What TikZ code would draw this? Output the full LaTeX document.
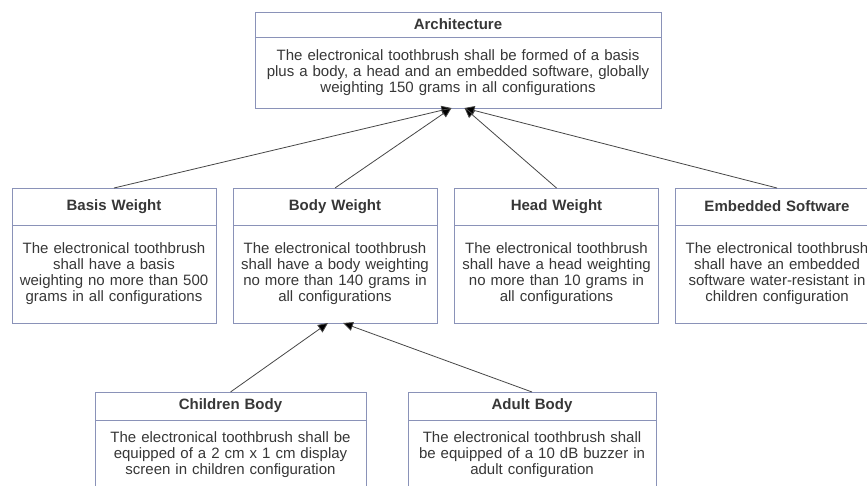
\documentclass[tikz,border=0pt]{standalone}
\usepackage{fontspec}
\setmainfont{Liberation Sans}
\usetikzlibrary{arrows.meta,positioning}
\definecolor{boxline}{RGB}{138,146,184}
\definecolor{inkgray}{RGB}{55,55,55}
\definecolor{linkgray}{RGB}{70,70,70}
\tikzset{
  ttl/.style={draw=boxline,line width=0.9pt,fill=white,inner sep=0pt,outer sep=0pt,
    align=center,text=inkgray,font=\fontsize{15}{16}\selectfont\bfseries},
  txt/.style={draw=boxline,line width=0.9pt,fill=white,inner sep=0pt,outer sep=0pt,
    align=center,text=inkgray,font=\fontsize{15}{16}\selectfont},
  link/.style={linkgray,line width=0.8pt,-{Triangle[length=10pt,width=9pt,fill=black]}},
}

\begin{document}
\begin{tikzpicture}[x=1pt,y=-1pt]
  \useasboundingbox (0,0) rectangle (867,486);
  \clip (0,0) rectangle (867,486);
  % ---- top: the architecture requirement ----
  \node[ttl,text width=406pt,minimum height=25pt] (arch-t) at (458,24.5) {Architecture};
  \node[txt,text width=406pt,minimum height=71pt,below=0pt of arch-t] (arch-b)
    {The electronical toothbrush shall be formed of a basis\\
     plus a body, a head and an embedded software, globally\\
     weighting 150 grams in all configurations};
  % ---- middle row: the four parts ----
  \node[ttl,text width=204pt,minimum height=37pt] (basis-t) at (114,206.5) {Basis Weight};
  \node[txt,text width=204pt,minimum height=98pt,below=0pt of basis-t] (basis-b)
    {The electronical toothbrush\\ shall have a basis\\ weighting no more than 500\\ grams in all configurations};
  \node[ttl,text width=204pt,minimum height=37pt] (body-t) at (335,206.5) {Body Weight};
  \node[txt,text width=204pt,minimum height=98pt,below=0pt of body-t] (body-b)
    {The electronical toothbrush\\ shall have a body weighting\\ no more than 140 grams in\\ all configurations};
  \node[ttl,text width=204pt,minimum height=37pt] (head-t) at (556.5,206.5) {Head Weight};
  \node[txt,text width=204pt,minimum height=98pt,below=0pt of head-t] (head-b)
    {The electronical toothbrush\\ shall have a head weighting\\ no more than 10 grams in\\ all configurations};
  \node[ttl,text width=204pt,minimum height=37pt] (soft-t) at (777,206.5) {Embedded Software};
  \node[txt,text width=204pt,minimum height=98pt,below=0pt of soft-t] (soft-b)
    {The electronical toothbrush\\ shall have an embedded\\ software water-resistant in\\ children configuration};
  % ---- bottom row: the two bodies ----
  \node[ttl,text width=271pt,minimum height=28pt] (child-t) at (230.5,406) {Children Body};
  \node[txt,text width=271pt,minimum height=70pt,below=0pt of child-t] (child-b)
    {The electronical toothbrush shall be\\ equipped of a 2 cm x 1 cm display\\ screen in children configuration};
  \node[ttl,text width=248pt,minimum height=28pt] (adult-t) at (532,406) {Adult Body};
  \node[txt,text width=248pt,minimum height=70pt,below=0pt of adult-t] (adult-b)
    {The electronical toothbrush shall\\ be equipped of a 10 dB buzzer in\\ adult configuration};
  % ---- links ----
  \draw[link] (basis-t.north) -- ([xshift=-6.5pt]arch-b.south);
  \draw[link] (body-t.north) -- ([xshift=-6.5pt]arch-b.south);
  \draw[link] (head-t.north) -- ([xshift=6.5pt]arch-b.south);
  \draw[link] (soft-t.north) -- ([xshift=6.5pt]arch-b.south);
  \draw[link] (child-t.north) -- ([xshift=-7pt]body-b.south);
  \draw[link] (adult-t.north) -- ([xshift=8pt]body-b.south);
\end{tikzpicture}
\end{document}
